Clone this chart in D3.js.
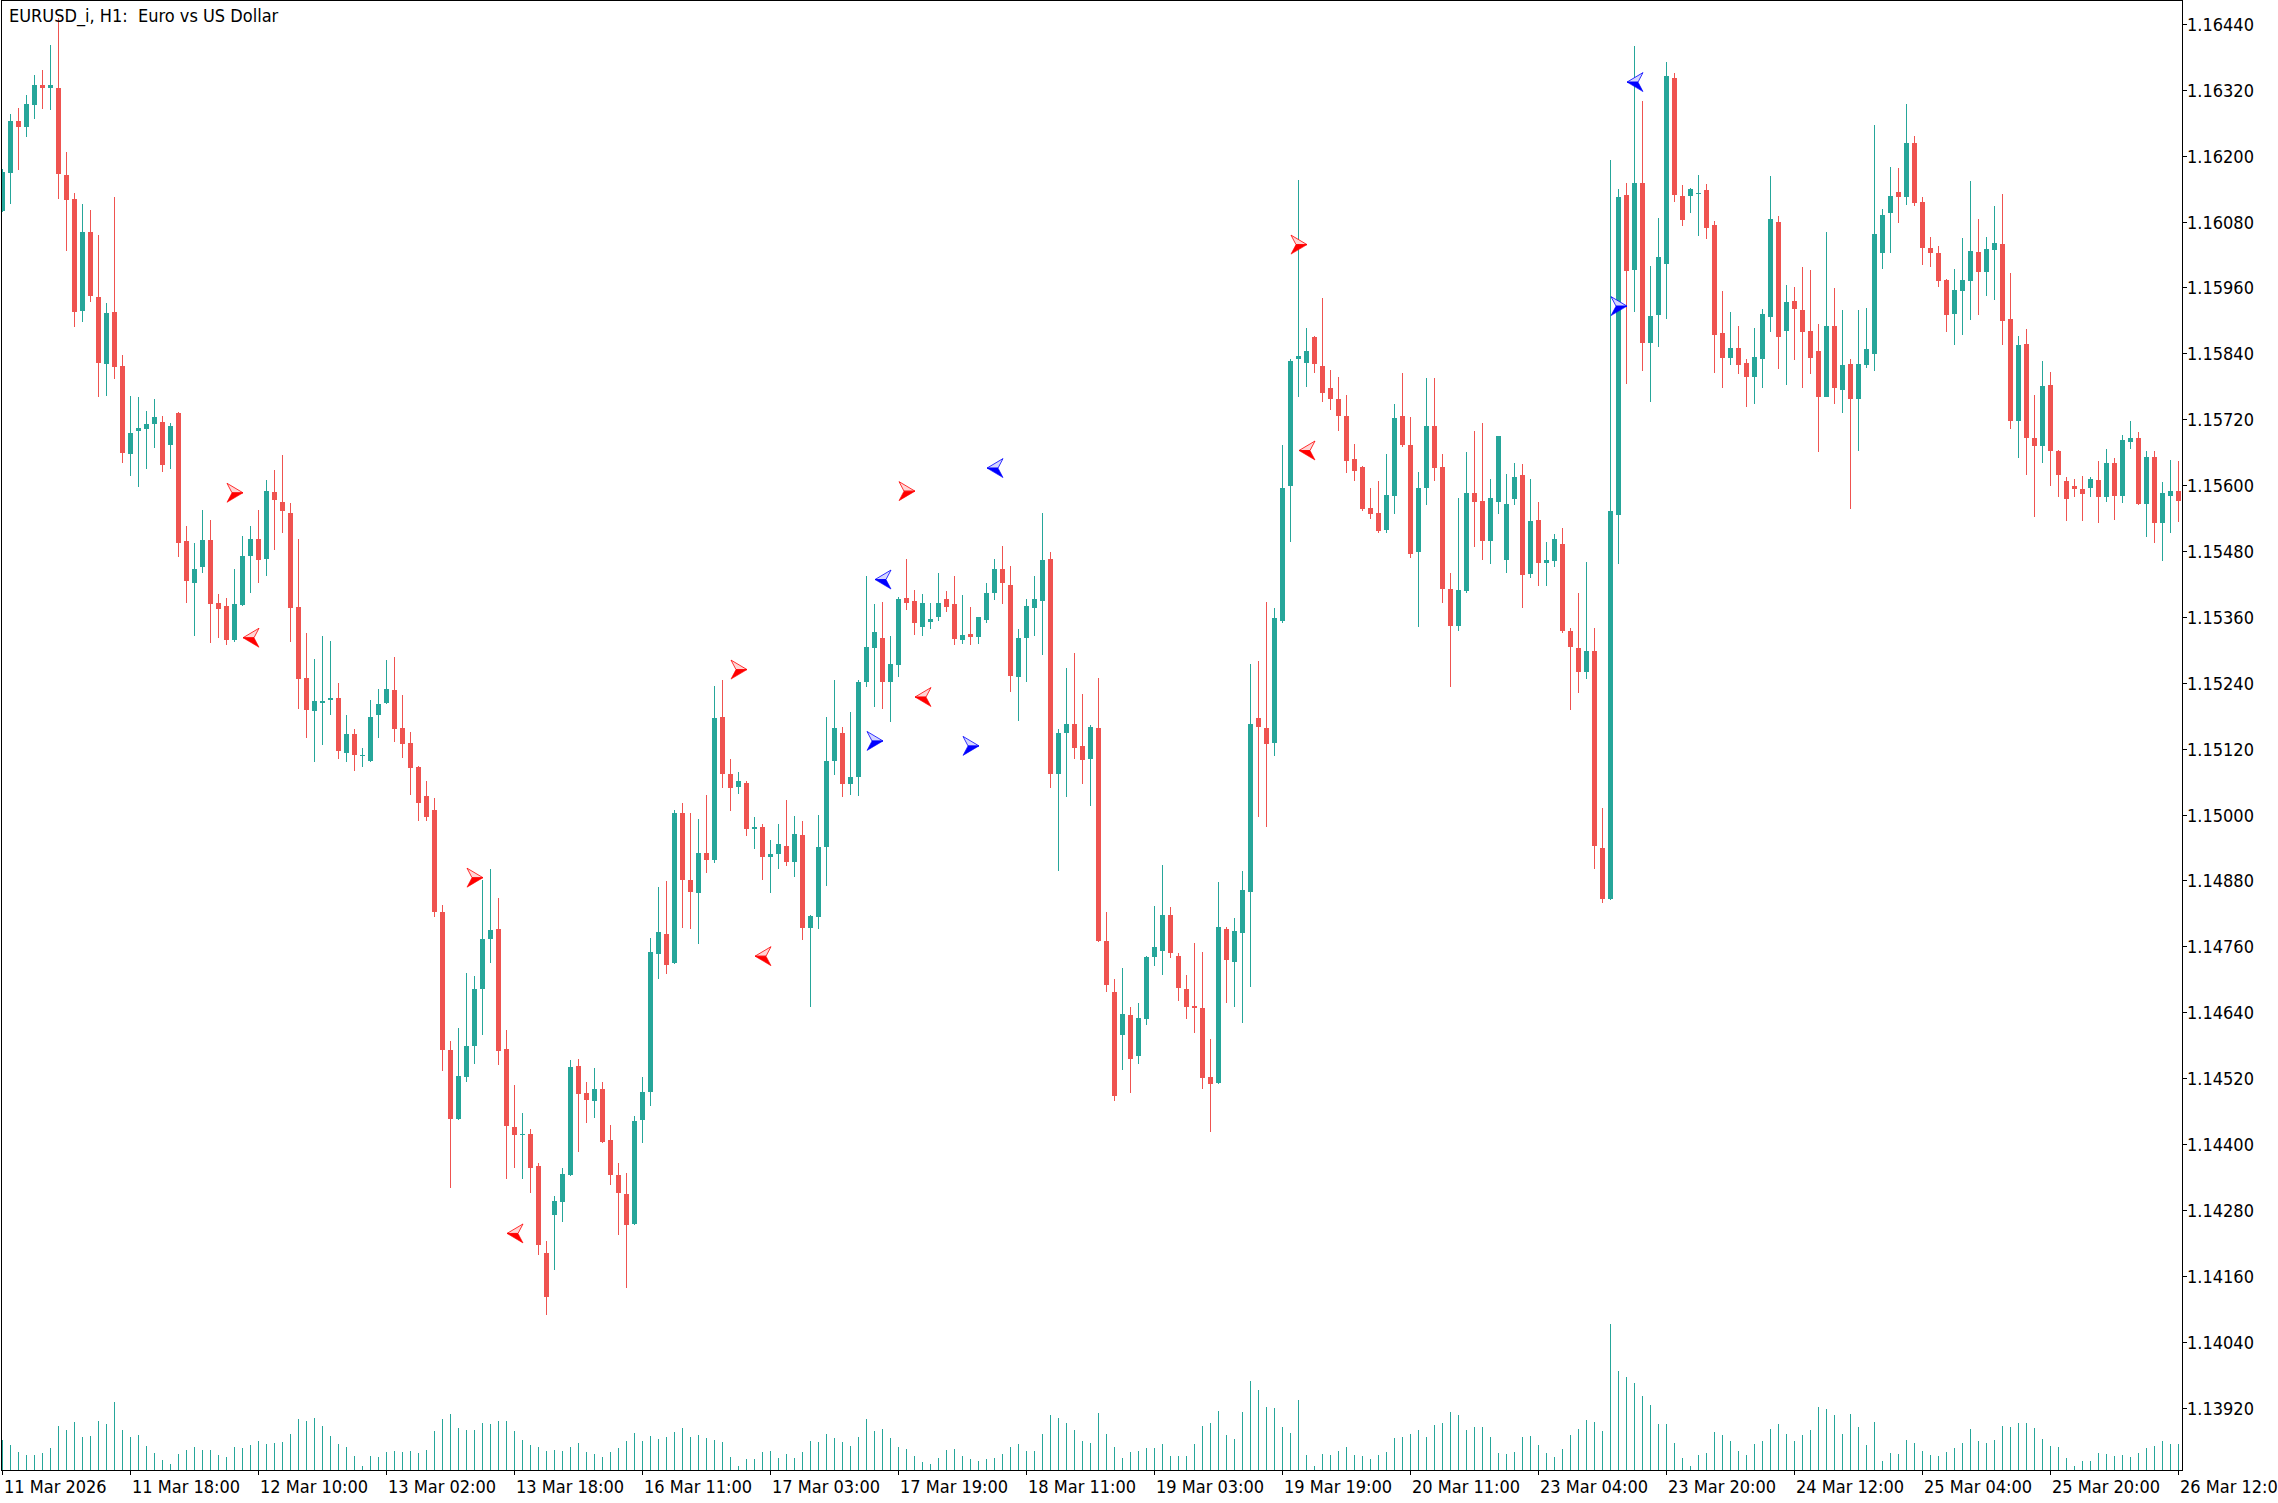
<!DOCTYPE html>
<html><head><meta charset="utf-8">
<script src="https://cdn.jsdelivr.net/npm/d3@7"></script>
<style>
html,body{margin:0;padding:0;background:#fff;overflow:hidden;}
svg{display:block;}
text{font-family:"DejaVu Sans Condensed","DejaVu Sans",sans-serif;font-stretch:condensed;font-size:18px;fill:#000;}
</style></head><body>
<svg id="chart" width="2278" height="1503"></svg>
<script>
const title = "EURUSD_i, H1:  Euro vs US Dollar";
const open = [1.16100,1.16169,1.16263,1.16253,1.16293,1.16328,1.16324,1.16323,1.16165,1.16121,
1.15918,1.16061,1.15943,1.15821,1.15916,1.15817,1.15657,1.15699,1.15703,1.15712,
1.15715,1.15673,1.15732,1.15498,1.15421,1.15450,1.15500,1.15385,1.15380,1.15317,
1.15381,1.15470,1.15501,1.15466,1.15588,1.15569,1.15549,1.15378,1.15249,1.15188,
1.15203,1.15208,1.15212,1.15112,1.15147,1.15106,1.15098,1.15182,1.15203,1.15227,
1.15158,1.15130,1.15086,1.15033,1.15008,1.14823,1.14571,1.14446,1.14522,1.14578,
1.14683,1.14774,1.14791,1.14573,1.14431,1.14416,1.14419,1.14360,1.14202,1.14270,
1.14295,1.14344,1.14542,1.14493,1.14479,1.14500,1.14407,1.14344,1.14309,1.14254,
1.14443,1.14495,1.14746,1.14782,1.14729,1.15003,1.14881,1.14857,1.14930,1.14917,
1.15178,1.15074,1.15051,1.15058,1.14973,1.14978,1.14922,1.14929,1.14943,1.14913,
1.14963,1.14794,1.14813,1.14940,1.15098,1.15148,1.15056,1.15068,1.15241,1.15304,
1.15322,1.15241,1.15273,1.15395,1.15389,1.15341,1.15350,1.15359,1.15393,1.15384,
1.15317,1.15329,1.15323,1.15355,1.15404,1.15447,1.15418,1.15251,1.15321,1.15377,
1.15388,1.15466,1.15073,1.15148,1.15165,1.15124,1.15102,1.15158,1.14769,1.14677,
1.14599,1.14635,1.14561,1.14627,1.14740,1.14752,1.14817,1.14743,1.14683,1.14651,
1.14648,1.14522,1.14511,1.14792,1.14731,1.14785,1.14858,1.15176,1.15158,1.15130,
1.15353,1.15598,1.15830,1.15822,1.15870,1.15817,1.15776,1.15757,1.15725,1.15648,
1.15633,1.15558,1.15549,1.15518,1.15581,1.15726,1.15673,1.15478,1.15594,1.15708,
1.15633,1.15411,1.15343,1.15408,1.15586,1.15571,1.15499,1.15569,1.15463,1.15574,
1.15618,1.15438,1.15537,1.15459,1.15462,1.15493,1.15334,1.15304,1.15259,1.15297,
1.14939,1.14847,1.15545,1.16129,1.15991,1.16150,1.15858,1.15910,1.16003,1.16341,
1.16127,1.16127,1.16130,1.16138,1.16074,1.15877,1.15832,1.15850,1.15822,1.15796,
1.15830,1.15907,1.16079,1.15881,1.15935,1.15919,1.15881,1.15844,1.15761,1.15890,
1.15774,1.15821,1.15757,1.15819,1.15838,1.16023,1.16096,1.16134,1.16125,1.16223,
1.16115,1.16032,1.16023,1.15974,1.15912,1.15954,1.15972,1.16025,1.15989,1.16029,
1.16039,1.15903,1.15717,1.15857,1.15685,1.15672,1.15782,1.15663,1.15608,1.15598,
1.15592,1.15595,1.15610,1.15578,1.15640,1.15580,1.15678,1.15686,1.15565,1.15651,
1.15531,1.15580,1.15589];
const high = [1.16175,1.16275,1.16287,1.16310,1.16347,1.16356,1.16402,1.16451,1.16206,1.16132,
1.16112,1.16101,1.16056,1.15932,1.16125,1.15837,1.15762,1.15761,1.15735,1.15757,
1.15726,1.15714,1.15733,1.15526,1.15494,1.15554,1.15536,1.15401,1.15394,1.15447,
1.15508,1.15526,1.15555,1.15609,1.15627,1.15655,1.15568,1.15502,1.15331,1.15284,
1.15325,1.15316,1.15240,1.15182,1.15156,1.15122,1.15209,1.15229,1.15282,1.15287,
1.15218,1.15150,1.15089,1.15061,1.15031,1.14835,1.14588,1.14612,1.14711,1.14706,
1.14880,1.14900,1.14848,1.14608,1.14507,1.14457,1.14427,1.14365,1.14224,1.14305,
1.14357,1.14553,1.14555,1.14513,1.14538,1.14513,1.14435,1.14365,1.14347,1.14451,
1.14522,1.14775,1.14868,1.14879,1.15008,1.15021,1.15003,1.14992,1.15036,1.15234,
1.15245,1.15101,1.15078,1.15061,1.14995,1.14983,1.14954,1.14983,1.15026,1.14997,
1.14988,1.14817,1.14999,1.15178,1.15245,1.15159,1.15187,1.15245,1.15434,1.15384,
1.15387,1.15325,1.15397,1.15466,1.15409,1.15401,1.15386,1.15440,1.15407,1.15434,
1.15400,1.15378,1.15360,1.15421,1.15466,1.15489,1.15453,1.15338,1.15393,1.15434,
1.15549,1.15478,1.15155,1.15266,1.15294,1.15220,1.15163,1.15249,1.14823,1.14701,
1.14720,1.14650,1.14657,1.14742,1.14834,1.14908,1.14832,1.14748,1.14708,1.14766,
1.14750,1.14592,1.14877,1.14796,1.14812,1.14898,1.15274,1.15280,1.15387,1.15376,
1.15673,1.15830,1.16156,1.15886,1.15871,1.15941,1.15810,1.15797,1.15764,1.15675,
1.15635,1.15595,1.15607,1.15656,1.15747,1.15805,1.15724,1.15623,1.15795,1.15795,
1.15656,1.15439,1.15577,1.15661,1.15698,1.15713,1.15611,1.15690,1.15621,1.15640,
1.15639,1.15611,1.15569,1.15497,1.15511,1.15521,1.15339,1.15404,1.15460,1.15339,
1.15012,1.16192,1.16140,1.16150,1.16399,1.16300,1.15999,1.16087,1.16371,1.16351,
1.16147,1.16142,1.16165,1.16148,1.16081,1.15954,1.15915,1.15889,1.15830,1.15886,
1.15921,1.16163,1.16090,1.15965,1.15961,1.15997,1.15991,1.15893,1.16061,1.15959,
1.15919,1.15830,1.15919,1.15923,1.16256,1.16103,1.16179,1.16178,1.16294,1.16236,
1.16124,1.16052,1.16036,1.15976,1.15994,1.16050,1.16154,1.16085,1.16052,1.16108,
1.16130,1.15987,1.15872,1.15884,1.15765,1.15826,1.15806,1.15664,1.15615,1.15612,
1.15617,1.15615,1.15643,1.15666,1.15650,1.15692,1.15717,1.15697,1.15663,1.15663,
1.15606,1.15646,1.15643];
const low = [1.16098,1.16112,1.16173,1.16234,1.16267,1.16285,1.16284,1.16121,1.16026,1.15888,
1.15897,1.15934,1.15760,1.15762,1.15793,1.15641,1.15616,1.15596,1.15629,1.15668,
1.15623,1.15629,1.15469,1.15386,1.15326,1.15440,1.15313,1.15322,1.15308,1.15314,
1.15379,1.15404,1.15421,1.15435,1.15482,1.15513,1.15314,1.15192,1.15140,1.15095,
1.15127,1.15182,1.15102,1.15096,1.15079,1.15086,1.15095,1.15140,1.15201,1.15132,
1.15103,1.15036,1.14989,1.14989,1.14814,1.14533,1.14320,1.14444,1.14513,1.14545,
1.14598,1.14729,1.14543,1.14336,1.14357,1.14336,1.14310,1.14197,1.14089,1.14171,
1.14257,1.14341,1.14385,1.14439,1.14448,1.14402,1.14325,1.14235,1.14137,1.14252,
1.14402,1.14469,1.14700,1.14710,1.14728,1.14793,1.14792,1.14764,1.14893,1.14912,
1.15048,1.15006,1.15038,1.14960,1.14938,1.14881,1.14857,1.14900,1.14907,1.14887,
1.14772,1.14649,1.14791,1.14869,1.15072,1.15032,1.15036,1.15033,1.15233,1.15196,
1.15193,1.15169,1.15251,1.15373,1.15327,1.15326,1.15337,1.15352,1.15368,1.15308,
1.15311,1.15308,1.15310,1.15348,1.15390,1.15384,1.15224,1.15171,1.15242,1.15326,
1.15291,1.15049,1.14897,1.15032,1.15102,1.15055,1.15016,1.14768,1.14676,1.14478,
1.14535,1.14493,1.14545,1.14617,1.14725,1.14707,1.14739,1.14660,1.14627,1.14603,
1.14501,1.14421,1.14510,1.14657,1.14650,1.14620,1.14685,1.14995,1.14977,1.15107,
1.15348,1.15496,1.15760,1.15778,1.15805,1.15751,1.15736,1.15699,1.15622,1.15608,
1.15553,1.15539,1.15512,1.15512,1.15547,1.15669,1.15468,1.15342,1.15563,1.15607,
1.15386,1.15232,1.15334,1.15403,1.15488,1.15464,1.15457,1.15547,1.15440,1.15563,
1.15376,1.15431,1.15417,1.15417,1.15450,1.15330,1.15191,1.15222,1.15247,1.14900,
1.14839,1.14845,1.15457,1.15785,1.15916,1.15807,1.15752,1.15852,1.15903,1.16116,
1.16071,1.16096,1.16054,1.16049,1.15805,1.15777,1.15819,1.15803,1.15743,1.15747,
1.15776,1.15878,1.15812,1.15783,1.15828,1.15776,1.15803,1.15661,1.15760,1.15747,
1.15732,1.15557,1.15663,1.15814,1.15807,1.15994,1.16022,1.16078,1.16111,1.16109,
1.16000,1.15998,1.15961,1.15878,1.15856,1.15874,1.15901,1.15910,1.15945,1.15938,
1.15856,1.15703,1.15650,1.15618,1.15541,1.15640,1.15598,1.15578,1.15534,1.15579,
1.15534,1.15578,1.15531,1.15569,1.15536,1.15567,1.15665,1.15564,1.15505,1.15494,
1.15461,1.15512,1.15532];
const close = [1.16171,1.16263,1.16253,1.16294,1.16329,1.16324,1.16329,1.16166,1.16120,1.15916,
1.16061,1.15944,1.15823,1.15914,1.15816,1.15659,1.15695,1.15704,1.15712,1.15724,
1.15637,1.15708,1.15495,1.15426,1.15447,1.15500,1.15384,1.15375,1.15317,1.15384,
1.15471,1.15501,1.15464,1.15589,1.15572,1.15552,1.15377,1.15246,1.15191,1.15207,
1.15207,1.15212,1.15116,1.15147,1.15109,1.15108,1.15178,1.15202,1.15229,1.15156,
1.15128,1.15085,1.15021,1.14996,1.14823,1.14571,1.14446,1.14524,1.14579,1.14683,
1.14773,1.14790,1.14569,1.14432,1.14416,1.14419,1.14357,1.14216,1.14121,1.14296,
1.14346,1.14540,1.14491,1.14480,1.14500,1.14403,1.14344,1.14310,1.14252,1.14442,
1.14495,1.14749,1.14786,1.14726,1.15003,1.14881,1.14858,1.14930,1.14917,1.15176,
1.15074,1.15049,1.15061,1.14973,1.14978,1.14922,1.14928,1.14947,1.14913,1.14965,
1.14793,1.14816,1.14941,1.15097,1.15158,1.15055,1.15068,1.15241,1.15305,1.15332,
1.15242,1.15274,1.15393,1.15386,1.15348,1.15386,1.15356,1.15386,1.15378,1.15319,
1.15327,1.15323,1.15359,1.15404,1.15447,1.15421,1.15253,1.15322,1.15380,1.15393,
1.15464,1.15073,1.15149,1.15165,1.15122,1.15100,1.15160,1.14769,1.14689,1.14487,
1.14637,1.14555,1.14629,1.14741,1.14759,1.14817,1.14747,1.14684,1.14649,1.14648,
1.14520,1.14510,1.14795,1.14735,1.14788,1.14862,1.15165,1.15159,1.15128,1.15358,
1.15595,1.15826,1.15835,1.15844,1.15820,1.15768,1.15756,1.15725,1.15644,1.15625,
1.15557,1.15547,1.15517,1.15582,1.15722,1.15673,1.15474,1.15595,1.15708,1.15631,
1.15410,1.15343,1.15409,1.15586,1.15569,1.15499,1.15577,1.15689,1.15565,1.15614,
1.15436,1.15535,1.15459,1.15463,1.15502,1.15334,1.15305,1.15259,1.15297,1.14942,
1.14846,1.15553,1.16125,1.15990,1.16150,1.15858,1.15908,1.16016,1.16345,1.16128,
1.16082,1.16139,1.16132,1.16069,1.15874,1.15832,1.15850,1.15819,1.15796,1.15833,
1.15912,1.16085,1.15869,1.15934,1.15920,1.15878,1.15832,1.15761,1.15890,1.15776,
1.15819,1.15757,1.15821,1.15848,1.16057,1.16092,1.16127,1.16124,1.16223,1.16114,
1.16032,1.16023,1.15972,1.15910,1.15955,1.15974,1.16026,1.15989,1.16030,1.16041,
1.15898,1.15716,1.15855,1.15685,1.15672,1.15781,1.15663,1.15618,1.15575,1.15592,
1.15584,1.15612,1.15578,1.15640,1.15580,1.15683,1.15686,1.15566,1.15651,1.15531,
1.15586,1.15589,1.15571];
const volume = [30,25,18,15,15,17,22,44,40,48,33,34,49,46,68,40,33,35,24,17,
10,6,16,20,23,20,20,15,13,23,22,25,29,26,27,28,36,51,49,52,
44,34,26,23,14,4,14,13,18,19,18,19,17,20,39,51,56,42,40,40,
47,46,49,49,39,30,25,23,19,20,19,23,27,18,16,13,18,22,29,37,
29,34,31,33,38,42,33,35,32,30,28,13,4,11,11,18,19,12,16,12,
18,29,28,36,32,28,24,33,51,39,41,32,23,21,14,8,6,12,20,21,
14,11,9,11,12,16,23,26,19,19,36,55,52,47,40,29,27,57,36,23,
12,18,19,22,22,26,14,14,14,26,44,47,59,35,31,58,89,80,63,62,
43,37,70,15,4,16,15,19,23,15,14,11,15,18,32,33,36,40,33,45,
47,58,55,40,43,43,33,17,16,18,33,34,25,17,13,21,35,41,50,48,
39,146,99,93,87,74,65,46,46,27,12,4,15,17,38,35,29,19,15,26,
29,41,46,36,29,35,40,63,61,55,36,56,43,25,48,9,17,16,30,27,
19,15,14,18,22,27,41,29,27,30,44,43,47,47,42,31,24,23,12,4,
9,9,17,16,14,15,13,17,22,24,29,26,26];
const xTickBars = [0,16,32,48,64,80,96,112,128,144,160,176,192,208,224,240,256,272];
const xTickLabels = ["11 Mar 2026","11 Mar 18:00","12 Mar 10:00","13 Mar 02:00","13 Mar 18:00","16 Mar 11:00","17 Mar 03:00","17 Mar 19:00","18 Mar 11:00","19 Mar 03:00","19 Mar 19:00","20 Mar 11:00","23 Mar 04:00","23 Mar 20:00","24 Mar 12:00","25 Mar 04:00","25 Mar 20:00","26 Mar 12:00"];
const yTicks = [1.16440,1.16320,1.16200,1.16080,1.15960,1.15840,1.15720,1.15600,1.15480,1.15360,1.15240,1.15120,1.15000,1.14880,1.14760,1.14640,1.14520,1.14400,1.14280,1.14160,1.14040,1.13920];
const arrowBars = [29,31,59,64,92,95,110,113,115,109,121,124,162,163,202,204];
const arrowPrices = [1.15586,1.15322,1.14885,1.14237,1.15264,1.14742,1.15428,1.15589,1.15214,1.15134,1.15125,1.15631,1.16038,1.15663,1.15926,1.16334];
const arrowDirs = ["right","left","right","left","right","left","left","right","left","right","right","left","right","left","right","left"];
const arrowColors = ["red","red","red","red","red","red","blue","red","red","blue","blue","blue","red","red","blue","blue"];

const W = 2278, H = 1503;
const frame = {left: 1, right: 2182, top: 0, bottom: 1470};
const UP = "#26a69a", DOWN = "#ef5350";
const arrowFill = {red: "#ff0000", blue: "#0000ff"};
const arrowLight = {red: "#ffd6d6", blue: "#d6d6ff"};

const x = d3.scaleLinear().domain([0, open.length - 1]).range([2.3, 2178.3]);
const y = d3.scaleLinear().domain([1.13920, 1.16440]).range([1407.5, 23.9]);
const yv = d3.scaleLinear().domain([0, 146]).range([frame.bottom, 1324]);

const svg = d3.select("#chart");
svg.append("rect").attr("width", W).attr("height", H).attr("fill", "#fff");
svg.append("defs").append("clipPath").attr("id", "plotclip")
  .append("rect").attr("x", frame.left + 1).attr("y", frame.top + 1)
  .attr("width", frame.right - frame.left - 1).attr("height", frame.bottom - frame.top - 1);

const plot = svg.append("g").attr("clip-path", "url(#plotclip)").attr("shape-rendering", "crispEdges");
const idx = d3.range(open.length);

// volumes
plot.append("g").selectAll("rect").data(idx).join("rect")
  .attr("x", i => Math.round(x(i)))
  .attr("y", i => Math.round(yv(volume[i])))
  .attr("width", 1)
  .attr("height", i => frame.bottom - Math.round(yv(volume[i])))
  .attr("fill", UP);

// candles
const cg = plot.append("g").selectAll("g").data(idx).join("g");
cg.append("rect")
  .attr("x", i => Math.round(x(i)))
  .attr("y", i => Math.round(y(high[i])))
  .attr("width", 1)
  .attr("height", i => Math.max(1, Math.round(y(low[i])) - Math.round(y(high[i]))))
  .attr("fill", i => close[i] >= open[i] ? UP : DOWN);
cg.append("rect")
  .attr("x", i => Math.round(x(i)) - 2)
  .attr("y", i => Math.round(y(Math.max(open[i], close[i]))))
  .attr("width", 5)
  .attr("height", i => Math.max(1, Math.round(y(Math.min(open[i], close[i]))) - Math.round(y(Math.max(open[i], close[i])))))
  .attr("fill", i => close[i] >= open[i] ? UP : DOWN);

// arrows
const ag = svg.append("g").attr("clip-path", "url(#plotclip)");
arrowBars.forEach((b, k) => {
  const cx = x(b) + 0.7, cy = y(arrowPrices[k]);
  const s = arrowDirs[k] === "right" ? 1 : -1;
  const tip = [cx + 8 * s, cy], tt = [cx - 8 * s, cy - 9.5], tb = [cx - 8 * s, cy + 9.5], nt = [cx - 3 * s, cy];
  const col = arrowFill[arrowColors[k]];
  ag.append("path").attr("d", d3.line()([tip, tt, nt]) + "Z")
    .attr("fill", arrowLight[arrowColors[k]]).attr("stroke", col).attr("stroke-width", 0.8).attr("stroke-linejoin", "miter");
  ag.append("path").attr("d", d3.line()([tip, nt, tb]) + "Z")
    .attr("fill", col).attr("stroke", col).attr("stroke-width", 0.6);
});

// frame and axes
const ax = svg.append("g").attr("shape-rendering", "crispEdges").attr("stroke", "#000").attr("stroke-width", 1);
ax.append("line").attr("x1", frame.left + 0.5).attr("x2", frame.left + 0.5).attr("y1", frame.top).attr("y2", frame.bottom + 1);
ax.append("line").attr("x1", frame.left).attr("x2", frame.right + 1).attr("y1", frame.top + 0.5).attr("y2", frame.top + 0.5);
ax.append("line").attr("x1", frame.right + 0.5).attr("x2", frame.right + 0.5).attr("y1", frame.top).attr("y2", frame.bottom + 1);
ax.append("line").attr("x1", frame.left).attr("x2", frame.right + 1).attr("y1", frame.bottom + 0.5).attr("y2", frame.bottom + 0.5);

// y axis ticks and labels
yTicks.forEach(v => {
  const yy = Math.round(y(v)) + 0.5;
  ax.append("line").attr("x1", frame.right + 1).attr("x2", frame.right + 5).attr("y1", yy).attr("y2", yy);
  svg.append("text").attr("x", frame.right + 5).attr("y", yy + 6.5).text(v.toFixed(5));
});

// x axis ticks and labels
xTickBars.forEach((b, k) => {
  const xx = Math.round(x(b)) + 0.5;
  ax.append("line").attr("x1", xx).attr("x2", xx).attr("y1", frame.bottom + 1).attr("y2", frame.bottom + 5);
  svg.append("text").attr("x", xx + 1.5).attr("y", 1493).text(xTickLabels[k]);
});

// title
svg.append("text").attr("x", 9).attr("y", 22).attr("xml:space", "preserve").style("white-space", "pre").text(title);
</script>
</body></html>
